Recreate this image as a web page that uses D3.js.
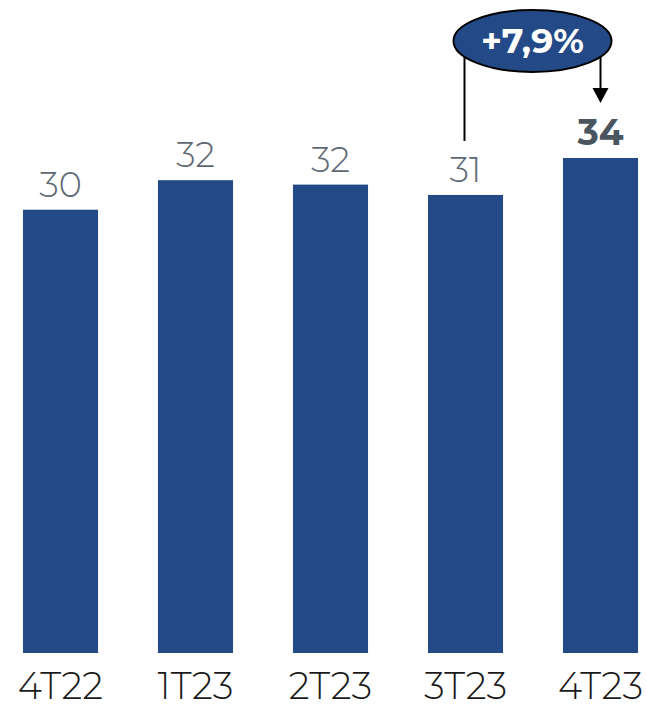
<!DOCTYPE html>
<html>
<head>
<meta charset="utf-8">
<script src="https://cdn.jsdelivr.net/npm/d3@7"></script>
<style>
  body { margin: 0; background: #fff; }
  svg text { font-family: "Montserrat", "Lato", "Open Sans", sans-serif; }
</style>
</head>
<body>
<div id="chart"></div>
<script>
// DATA
const categories = ['4T22', '1T23', '2T23', '3T23', '4T23'];
const values = [30.0, 32.0, 31.7, 31.0, 33.5];
const valueLabels = ['30', '32', '32', '31', '34'];
const growthLabel = '+7,9%';
const growthFrom = 3;
const growthTo = 4;

const width = 646, height = 708;
const barColor = '#234a87';

const svg = d3.select('#chart').append('svg')
    .attr('width', width).attr('height', height);

const x = d3.scaleBand().domain(categories).range([-7, 668])
    .paddingInner(0.444).paddingOuter(0.222);
const y = d3.scaleLinear().domain([0, 33.5]).range([653, 158]);

// bars
svg.selectAll('.bar').data(values).enter().append('rect')
    .attr('class', 'bar')
    .attr('x', (d, i) => x(categories[i]))
    .attr('y', d => y(d))
    .attr('width', x.bandwidth())
    .attr('height', d => y(0) - y(d))
    .attr('fill', barColor);

// value labels
svg.selectAll('.val').data(values).enter().append('text')
    .attr('class', 'val')
    .attr('x', (d, i) => x(categories[i]) + x.bandwidth() / 2)
    .attr('y', d => y(d) - 13)
    .attr('text-anchor', 'middle')
    .attr('font-size', (d, i) => i === growthTo ? 36 : 35)
    .attr('font-weight', (d, i) => i === growthTo ? 700 : 300)
    .attr('fill', (d, i) => i === growthTo ? '#4a5560' : '#5d6873')
    .text((d, i) => valueLabels[i]);

// x axis
const xAxis = svg.append('g')
    .attr('transform', 'translate(0,' + 672 + ')')
    .call(d3.axisBottom(x).tickSize(0).tickPadding(0));
xAxis.select('.domain').remove();
xAxis.selectAll('text')
    .attr('dy', '0.74em')
    .attr('font-size', 37)
    .attr('font-weight', 300)
    .attr('fill', '#1a1a1a')
    .style('font-family', '"Montserrat", "Lato", "Open Sans", sans-serif');

// growth annotation
const xa = x(categories[growthFrom]) + x.bandwidth() / 2 - 1;
const xb = x(categories[growthTo]) + x.bandwidth() / 2;
const cx = (xa + xb) / 2;
const cy = 41;

svg.append('line')
    .attr('x1', xa).attr('x2', xa)
    .attr('y1', 55).attr('y2', y(values[growthFrom]) - 54)
    .attr('stroke', '#000').attr('stroke-width', 2);

svg.append('path')
    .attr('d', 'M' + xb + ',55 L' + xb + ',' + (y(values[growthTo]) - 66))
    .attr('stroke', '#000').attr('stroke-width', 2)
    .attr('fill', 'none');
svg.append('path')
    .attr('d', 'M' + (xb - 8) + ',' + (y(values[growthTo]) - 70)
        + 'L' + (xb + 8) + ',' + (y(values[growthTo]) - 70)
        + 'L' + xb + ',' + (y(values[growthTo]) - 55) + 'Z')
    .attr('fill', '#000');

svg.append('ellipse')
    .attr('cx', cx).attr('cy', cy)
    .attr('rx', 79).attr('ry', 31)
    .attr('fill', barColor)
    .attr('stroke', '#000').attr('stroke-width', 2);

svg.append('text')
    .attr('x', cx).attr('y', cy + 12)
    .attr('text-anchor', 'middle')
    .attr('font-size', 35)
    .attr('font-weight', 700)
    .attr('fill', '#fff')
    .text(growthLabel);
</script>
</body>
</html>
